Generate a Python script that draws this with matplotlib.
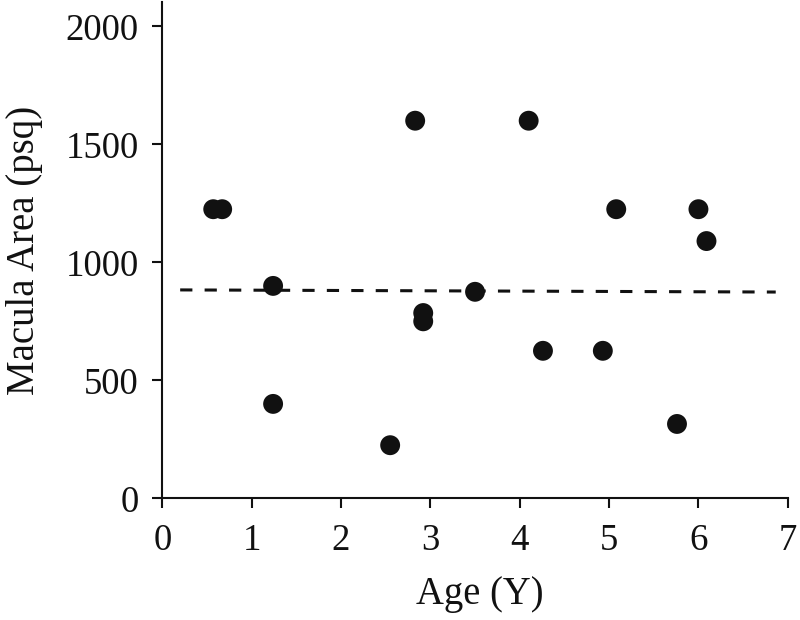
import matplotlib
matplotlib.use("Agg")
import matplotlib.pyplot as plt

age = [0.57, 0.67, 1.24, 1.24, 2.55, 2.83, 2.92, 2.92, 3.50, 4.10, 4.26, 4.93, 5.08, 5.76, 6.00, 6.09]
area = [1225, 1225, 900, 400, 225, 1600, 785, 750, 875, 1600, 625, 625, 1225, 315, 1225, 1090]

trend_x = [0.2, 6.865]
trend_y = [883, 874]

x_ticks = [0, 1, 2, 3, 4, 5, 6, 7]
y_ticks = [0, 500, 1000, 1500, 2000]

plt.rcParams['font.family'] = ['Liberation Serif', 'DejaVu Serif']

fig = plt.figure(figsize=(8, 6.2), dpi=100)
ax = fig.add_axes([162.3/800, 1 - 498.3/620, 625.5/800, 496.3/620])

ax.scatter(age, area, s=205, color='#111111', edgecolors='none', zorder=3, clip_on=False)
ax.plot(trend_x, trend_y, color='#111111', lw=2.2, linestyle=(0, (4, 4)), zorder=2)

ax.set_xlim(0, 7)
ax.set_ylim(0, 2103)
ax.set_xticks(x_ticks)
ax.set_yticks(y_ticks)
ax.set_xticklabels([str(v) for v in x_ticks])
ax.set_yticklabels([str(v) for v in y_ticks])

for s in ['top', 'right']:
    ax.spines[s].set_visible(False)
for s in ['left', 'bottom']:
    ax.spines[s].set_linewidth(1.5)
    ax.spines[s].set_color('#111111')

ax.tick_params(axis='both', direction='out', length=7, width=1.5, colors='#111111', labelsize=26.5)
ax.tick_params(axis='y', pad=10)
ax.tick_params(axis='x', pad=11)

ax.set_xlabel('Age (Y)', fontsize=27.8, color='#111111', labelpad=13, x=0.508)
ax.set_ylabel('Macula Area (psq)', fontsize=28, color='#111111', labelpad=16)

fig.savefig('out.png', dpi=100)
